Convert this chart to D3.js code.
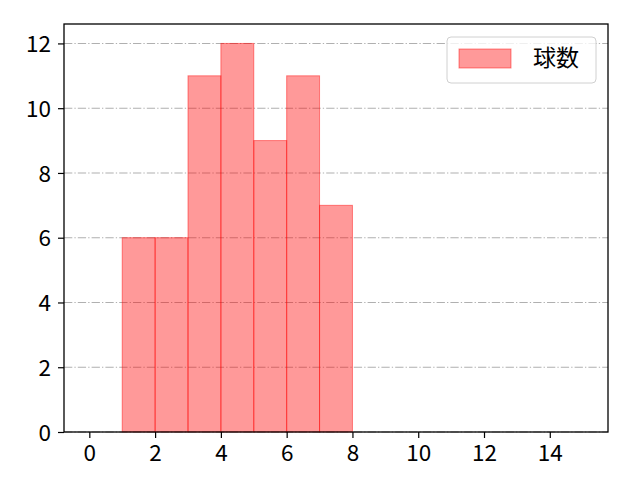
<!DOCTYPE html>
<html><head><meta charset="utf-8">
<script src="https://cdn.jsdelivr.net/npm/d3@7"></script>
<style>body{margin:0;background:#fff}</style>
</head><body>
<svg id="c" width="640" height="480"></svg>
<script>
const binStarts = [1, 2, 3, 4, 5, 6, 7];
const counts = [6, 6, 11, 12, 9, 11, 7];
const binWidth = 1;
const xTicks = [0, 2, 4, 6, 8, 10, 12, 14];
const yTicks = [0, 2, 4, 6, 8, 10, 12];
const legendLabel = "球数";

const font = "'Noto Sans CJK JP', 'Noto Sans', sans-serif";
const fs = 22.5;
const svg = d3.select("#c");
const L = 64, R = 608, T = 24, B = 432;
const x = d3.scaleLinear().domain([-0.77, 15.77]).range([L, R]);
const y = d3.scaleLinear().domain([0, 12.6]).range([B, T]);

svg.append("rect").attr("width", 640).attr("height", 480).attr("fill", "#fff");

// grid
svg.append("g").selectAll("line").data(yTicks).join("line")
  .attr("x1", L).attr("x2", R)
  .attr("y1", d => y(d)).attr("y2", d => y(d))
  .attr("stroke", "#b0b0b0").attr("stroke-width", 1.1)
  .attr("stroke-dasharray", "8.3,2.1,1.3,2.1");

// bars
const data = binStarts.map((s, i) => ({s, v: counts[i]}));
svg.append("g").selectAll("rect").data(data).join("rect")
  .attr("x", d => x(d.s)).attr("width", d => x(d.s + binWidth) - x(d.s))
  .attr("y", d => y(d.v)).attr("height", d => y(0) - y(d.v))
  .attr("fill", "rgba(255,0,0,0.4)")
  .attr("stroke", "rgba(255,0,0,0.45)").attr("stroke-width", 1);

// axes
const xAxis = svg.append("g").attr("transform", `translate(0,${B})`)
  .call(d3.axisBottom(x).tickValues(xTicks).tickSize(6).tickPadding(7).tickFormat(d3.format("d")));
const yAxis = svg.append("g").attr("transform", `translate(${L},0)`)
  .call(d3.axisLeft(y).tickValues(yTicks).tickSize(6).tickPadding(7).tickFormat(d3.format("d")));
[xAxis, yAxis].forEach(a => {
  a.select(".domain").remove();
  a.selectAll(".tick line").attr("stroke", "#000").attr("stroke-width", 1.2);
  a.selectAll(".tick text").attr("fill", "#000").style("font-family", font).style("font-size", fs + "px");
});
yAxis.selectAll(".tick text").attr("dy", "0.36em");
xAxis.selectAll(".tick text").attr("dy", "0.72em");

// frame
svg.append("rect").attr("x", L).attr("y", T).attr("width", R - L).attr("height", B - T)
  .attr("fill", "none").attr("stroke", "#000").attr("stroke-width", 1.3);

// legend
const lg = svg.append("g");
lg.append("rect").attr("x", 447).attr("y", 37).attr("width", 149).attr("height", 46)
  .attr("rx", 4).attr("fill", "rgba(255,255,255,0.8)").attr("stroke", "#d0d0d0").attr("stroke-width", 1);
lg.append("rect").attr("x", 459).attr("y", 49).attr("width", 52).attr("height", 19)
  .attr("fill", "rgba(255,0,0,0.4)").attr("stroke", "rgba(255,0,0,0.45)");
lg.append("text").attr("x", 533).attr("y", 58).attr("dy", "0.36em")
  .style("font-family", font).style("font-size", "23px").attr("fill", "#000").text(legendLabel);
</script>
</body></html>
